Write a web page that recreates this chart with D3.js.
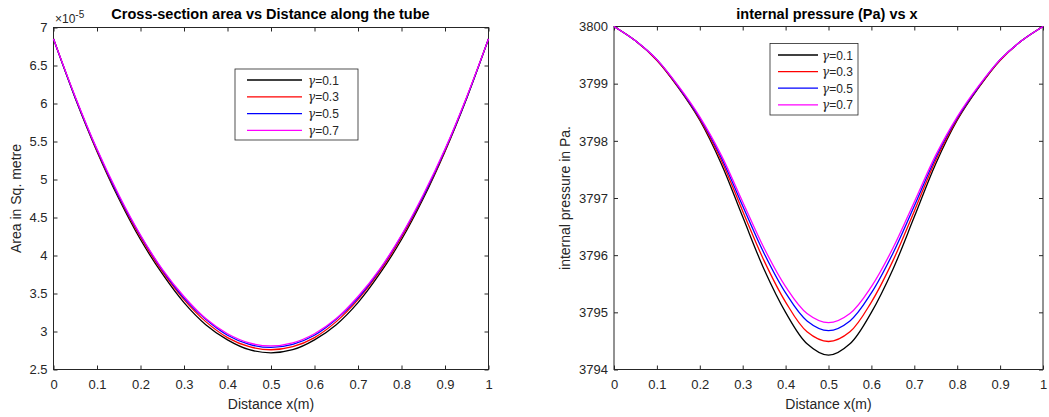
<!DOCTYPE html>
<html lang="en">
<head>
<meta charset="UTF-8">
<title>Cross-section area and internal pressure</title>
<script src="https://d3js.org/d3.v7.min.js"></script>
<style>
    body { margin: 0; background: #fff; font-family: "Liberation Sans", Arial, sans-serif; }
    .tick text { font-size: 13px; fill: #262626; font-family: "Liberation Sans", Arial, sans-serif; }
    .tick line { stroke: #262626; }
    .title { font-size: 14.5px; font-weight: bold; fill: #000; }
    .label { font-size: 14px; fill: #262626; }
</style>
</head>
<body>
<div id="chart"></div>
<script>
    // shared x positions along the tube (m)
    const xs = [0, 0.05, 0.1, 0.15, 0.2, 0.25, 0.3, 0.35, 0.4, 0.45, 0.5,
                0.55, 0.6, 0.65, 0.7, 0.75, 0.8, 0.85, 0.9, 0.95, 1];
    const gammas = ["0.1", "0.3", "0.5", "0.7"];
    const colors = ["#000000", "#ff0000", "#0000ff", "#ff00ff"];

    // cross-section area (x 1e-5 m^2)
    const area01 = [6.85, 6.07, 5.37, 4.75, 4.21, 3.76, 3.38, 3.09, 2.89, 2.76, 2.72, 2.76, 2.89, 3.09, 3.38, 3.76, 4.21, 4.75, 5.37, 6.07, 6.85];
    const area03 = [6.85, 6.08, 5.38, 4.77, 4.24, 3.79, 3.42, 3.13, 2.92, 2.80, 2.76, 2.80, 2.92, 3.13, 3.42, 3.79, 4.24, 4.77, 5.38, 6.08, 6.85];
    const area05 = [6.85, 6.08, 5.39, 4.78, 4.26, 3.81, 3.44, 3.16, 2.95, 2.83, 2.79, 2.83, 2.95, 3.16, 3.44, 3.81, 4.26, 4.78, 5.39, 6.08, 6.85];
    const area07 = [6.85, 6.09, 5.40, 4.80, 4.27, 3.82, 3.46, 3.17, 2.97, 2.85, 2.81, 2.85, 2.97, 3.17, 3.46, 3.82, 4.27, 4.80, 5.40, 6.09, 6.85];

    // internal pressure (Pa)
    const pres01 = [3800, 3799.75, 3799.41, 3798.93, 3798.36, 3797.60, 3796.67, 3795.75, 3795.00, 3794.45, 3794.25, 3794.45, 3795.00, 3795.75, 3796.67, 3797.60, 3798.36, 3798.93, 3799.41, 3799.75, 3800];
    const pres03 = [3800, 3799.75, 3799.41, 3798.94, 3798.38, 3797.66, 3796.77, 3795.90, 3795.18, 3794.66, 3794.49, 3794.66, 3795.18, 3795.90, 3796.77, 3797.66, 3798.38, 3798.94, 3799.41, 3799.75, 3800];
    const pres05 = [3800, 3799.75, 3799.42, 3798.95, 3798.40, 3797.71, 3796.86, 3796.03, 3795.34, 3794.85, 3794.68, 3794.85, 3795.34, 3796.03, 3796.86, 3797.71, 3798.40, 3798.95, 3799.42, 3799.75, 3800];
    const pres07 = [3800, 3799.75, 3799.42, 3798.96, 3798.42, 3797.75, 3796.93, 3796.12, 3795.45, 3794.98, 3794.82, 3794.98, 3795.45, 3796.12, 3796.93, 3797.75, 3798.42, 3798.96, 3799.42, 3799.75, 3800];

    const xTicks = [0, 0.1, 0.2, 0.3, 0.4, 0.5, 0.6, 0.7, 0.8, 0.9, 1];
    const areaTicks = [2.5, 3, 3.5, 4, 4.5, 5, 5.5, 6, 6.5, 7];
    const presTicks = [3794, 3795, 3796, 3797, 3798, 3799, 3800];

    const svg = d3.select("#chart").append("svg")
        .attr("width", 1049).attr("height", 417);

    function drawPanel(opts) {
        const { left, right, top, bottom, yDomain, yTicks, series, title, titleX, ylabel, ylabelX, legend } = opts;
        const x = d3.scaleLinear().domain([0, 1]).range([left, right]);
        const y = d3.scaleLinear().domain(yDomain).range([bottom, top]);
        const g = svg.append("g");

        const fmt = d => String(d);
        const axisColor = "#262626";

        // axes with inward ticks on all four sides (box on)
        g.append("g").attr("transform", `translate(0,${bottom})`)
            .call(d3.axisBottom(x).tickValues(xTicks).tickFormat(fmt).tickSizeInner(-4).tickSizeOuter(0).tickPadding(10));
        g.append("g").attr("transform", `translate(0,${top})`)
            .call(d3.axisTop(x).tickValues(xTicks).tickFormat("").tickSizeInner(-4).tickSizeOuter(0));
        g.append("g").attr("transform", `translate(${left},0)`)
            .call(d3.axisLeft(y).tickValues(yTicks).tickFormat(fmt).tickSizeInner(-4).tickSizeOuter(0).tickPadding(6));
        g.append("g").attr("transform", `translate(${right},0)`)
            .call(d3.axisRight(y).tickValues(yTicks).tickFormat("").tickSizeInner(-4).tickSizeOuter(0));
        g.selectAll(".domain").remove();
        g.append("rect")
            .attr("x", left).attr("y", top)
            .attr("width", right - left).attr("height", bottom - top)
            .attr("fill", "none").attr("stroke", axisColor).attr("stroke-width", 1);

        const line = d3.line()
            .x((d, i) => x(xs[i]))
            .y(d => y(d))
            .curve(d3.curveCatmullRom);

        series.forEach((s, i) => {
            g.append("path")
                .datum(s)
                .attr("d", line)
                .attr("fill", "none")
                .attr("stroke", colors[i])
                .attr("stroke-width", 1.3);
        });

        g.append("text").attr("class", "title")
            .attr("x", titleX).attr("y", 18.7).attr("text-anchor", "middle")
            .text(title);

        g.append("text").attr("class", "label")
            .attr("x", (left + right) / 2).attr("y", 408.5).attr("text-anchor", "middle")
            .text("Distance x(m)");

        g.append("text").attr("class", "label")
            .attr("transform", `translate(${ylabelX},${(top + bottom) / 2}) rotate(-90)`)
            .attr("text-anchor", "middle")
            .text(ylabel);

        // legend
        const lg = g.append("g");
        lg.append("rect")
            .attr("x", legend.x).attr("y", legend.y)
            .attr("width", legend.w).attr("height", legend.h)
            .attr("fill", "#fff").attr("stroke", "#262626").attr("stroke-width", 0.8);
        gammas.forEach((gm, i) => {
            const ry = legend.y + legend.rowTop + i * legend.rowStep;
            lg.append("line")
                .attr("x1", legend.x + legend.lineX1).attr("x2", legend.x + legend.lineX2)
                .attr("y1", ry).attr("y2", ry)
                .attr("stroke", colors[i]).attr("stroke-width", 1.3);
            const t = lg.append("text")
                .attr("x", legend.x + legend.textX).attr("y", ry + 4.5)
                .attr("font-size", 12).attr("fill", "#262626");
            t.append("tspan").attr("font-family", "'DejaVu Serif', serif").attr("font-style", "italic").text("γ");
            t.append("tspan").text("=" + gm);
        });
        return g;
    }

    const leftPanel = drawPanel({
        left: 53.5, right: 488.5, top: 27.5, bottom: 369.5,
        yDomain: [2.5, 7], yTicks: areaTicks,
        series: [area01, area03, area05, area07],
        title: "Cross-section area vs Distance along the tube", titleX: 270.5,
        ylabel: "Area in Sq. metre", ylabelX: 20.5,
        legend: { x: 235, y: 69, w: 123, h: 71, rowTop: 11, rowStep: 16.8, lineX1: 12, lineX2: 67, textX: 73 }
    });

    // exponent label above the left y axis
    const ex = leftPanel.append("text").attr("x", 55).attr("y", 22.5)
        .attr("font-size", 12).attr("fill", "#262626");
    ex.append("tspan").text("×10");
    ex.append("tspan").attr("dy", -5).attr("font-size", 10).text("-5");

    drawPanel({
        left: 614, right: 1043, top: 26.5, bottom: 369.5,
        yDomain: [3794, 3800], yTicks: presTicks,
        series: [pres01, pres03, pres05, pres07],
        title: "internal pressure (Pa) vs x", titleX: 827,
        ylabel: "internal pressure in Pa.", ylabelX: 569.5,
        legend: { x: 770, y: 43.5, w: 88, h: 71.5, rowTop: 11.5, rowStep: 16.6, lineX1: 8, lineX2: 48, textX: 52 }
    });
</script>
</body>
</html>
